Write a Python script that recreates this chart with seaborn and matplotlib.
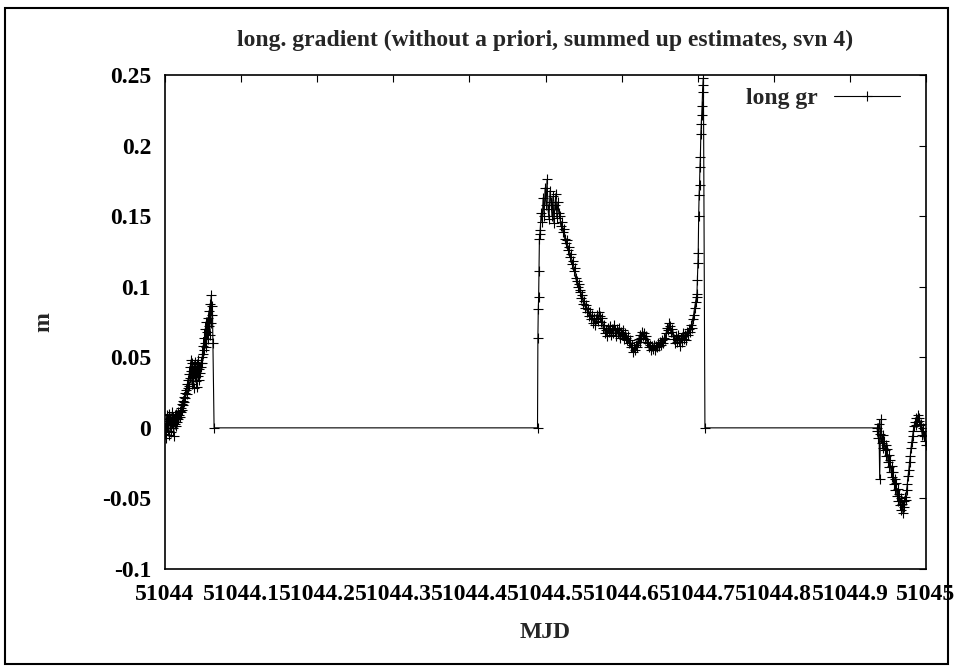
import numpy as np
import pandas as pd
import matplotlib
matplotlib.use("Agg")
import matplotlib.pyplot as plt
import seaborn as sns
from matplotlib.patches import Rectangle

# ---------------- data ----------------
title = "long. gradient (without a priori, summed up estimates, svn 4)"
xlabel = "MJD"
ylabel = "m"
series_label = "long gr"

x_ticks = [51044.0, 51044.1, 51044.2, 51044.3, 51044.4, 51044.5,
           51044.6, 51044.7, 51044.8, 51044.9, 51045.0]
x_tick_labels = ["51044", "51044.1", "51044.2", "51044.3", "51044.4", "51044.5",
                 "51044.6", "51044.7", "51044.8", "51044.9", "51045"]
y_ticks = [-0.1, -0.05, 0.0, 0.05, 0.1, 0.15, 0.2, 0.25]
y_tick_labels = ["-0.1", "-0.05", "0", "0.05", "0.1", "0.15", "0.2", "0.25"]

# segment 1 (MJD 51044.000 .. 51044.063)
seg1_range = (51044.000, 51044.063)
seg1_y = [-0.004, 0.003, -0.007, 0.005, 0.009, -0.002, 0.006, -0.005, 0.010, 0.002,
          0.007, -0.003, 0.004, 0.011, 0.000, 0.008, -0.006, 0.005, 0.009, 0.003,
          0.010, 0.001, 0.007, 0.004, 0.011, 0.006, 0.009, 0.012,
          0.008, 0.014, 0.011, 0.017, 0.013, 0.019, 0.016, 0.022, 0.018, 0.025,
          0.021, 0.027, 0.024, 0.031, 0.028, 0.034, 0.030, 0.038,
          0.043, 0.035, 0.048, 0.040, 0.031, 0.046, 0.038, 0.028, 0.044, 0.036,
          0.047, 0.033, 0.041, 0.029, 0.045, 0.037, 0.048, 0.034, 0.042, 0.039,
          0.046, 0.043,
          0.050, 0.046, 0.058, 0.052, 0.064, 0.055, 0.070, 0.060, 0.075, 0.057,
          0.068, 0.078, 0.063, 0.072, 0.083, 0.066, 0.088, 0.074, 0.094, 0.080,
          0.086, 0.060]

# gap 1 (zero fill)
gap1_x = [51044.0645, 51044.4895]
gap1_y = [0.0, 0.0]

# segment 2: steep rise, main body, final rise
seg2_rise_range = (51044.4900, 51044.4925)
seg2_rise_y = [0.064, 0.084, 0.093, 0.111, 0.134, 0.137]

seg2_body_range = (51044.4930, 51044.6985)
seg2_body_y = [0.140, 0.152, 0.146, 0.163, 0.150, 0.170, 0.158, 0.176, 0.155, 0.148,
               0.168, 0.160, 0.150, 0.164, 0.145, 0.158, 0.166, 0.149, 0.160, 0.152,
               0.150, 0.143, 0.146, 0.139, 0.141, 0.134, 0.131, 0.133, 0.126, 0.128,
               0.121, 0.123, 0.116, 0.118, 0.111, 0.113, 0.106, 0.104, 0.100, 0.102,
               0.096, 0.098, 0.092, 0.094, 0.088, 0.090, 0.085, 0.087, 0.082, 0.084,
               0.079, 0.082, 0.077, 0.080, 0.074, 0.078, 0.073, 0.077, 0.080, 0.076,
               0.082,
               0.079, 0.075, 0.078, 0.071, 0.073, 0.067,
               0.069, 0.065, 0.071, 0.068, 0.072, 0.066, 0.070, 0.067, 0.073, 0.069,
               0.065, 0.070, 0.067, 0.071, 0.064, 0.068, 0.066, 0.069, 0.063, 0.067,
               0.064, 0.062, 0.065,
               0.060, 0.062, 0.057, 0.059, 0.054, 0.057, 0.055, 0.059, 0.057, 0.061,
               0.063, 0.061, 0.066, 0.064, 0.068, 0.065, 0.067, 0.063, 0.065, 0.061,
               0.060, 0.057, 0.059, 0.055, 0.058, 0.056, 0.059, 0.055, 0.058, 0.057,
               0.060, 0.058, 0.061, 0.059, 0.062, 0.060, 0.064, 0.063,
               0.067, 0.071, 0.069, 0.074, 0.072, 0.068, 0.070, 0.065,
               0.063, 0.060, 0.065, 0.061, 0.066, 0.062, 0.058, 0.064, 0.061, 0.067,
               0.063, 0.066, 0.062, 0.068,
               0.066, 0.070, 0.068, 0.073, 0.071, 0.077, 0.080, 0.085, 0.089, 0.093]

seg2_top_range = (51044.6990, 51044.7075)
seg2_top_y = [0.095, 0.105, 0.117, 0.124, 0.150, 0.165, 0.172, 0.185, 0.192, 0.208,
              0.215, 0.222, 0.228, 0.238, 0.243, 0.248]

# gap 2 (zero fill)
gap2_x = [51044.7095, 51044.9355]
gap2_y = [0.0, 0.0]

# segment 3 (MJD 51044.9362 .. 51045.000)
seg3_range = (51044.9362, 51045.000)
seg3_y = [-0.002, -0.007, 0.003, -0.036, -0.004, 0.006, -0.011, -0.005, -0.014, -0.009,
          -0.016, -0.012, -0.020, -0.015, -0.024, -0.019, -0.028, -0.023, -0.031, -0.027,
          -0.035, -0.031, -0.040, -0.036, -0.044, -0.039, -0.048, -0.043, -0.052, -0.047,
          -0.055, -0.050, -0.058, -0.054,
          -0.060, -0.052, -0.056, -0.049, -0.051,
          -0.044, -0.040, -0.034, -0.030, -0.024, -0.020, -0.014, -0.010, -0.006, -0.002,
          0.001, 0.004, 0.002, 0.007, 0.004, 0.009, 0.005, 0.007, 0.002,
          0.003, -0.002, -0.005, 0.000, -0.006, -0.009, -0.005, -0.012]

# ---------------- assemble ----------------
def piece(rng, vals):
    return list(np.linspace(rng[0], rng[1], len(vals))), list(vals)

xs, ys = [], []
for px, py in [piece(seg1_range, seg1_y), (gap1_x, gap1_y),
               piece(seg2_rise_range, seg2_rise_y), piece(seg2_body_range, seg2_body_y),
               piece(seg2_top_range, seg2_top_y), (gap2_x, gap2_y),
               piece(seg3_range, seg3_y)]:
    xs += px
    ys += py
df = pd.DataFrame({"MJD": xs, "m": ys})

# ---------------- style ----------------
sns.set_theme(style="white")
plt.rcParams["font.family"] = ["Liberation Serif", "DejaVu Serif"]
plt.rcParams["font.weight"] = "bold"
plt.rcParams["axes.labelweight"] = "bold"
plt.rcParams["axes.titleweight"] = "bold"

FS = 17
W, H = 956, 668
fig = plt.figure(figsize=(W / 100, H / 100), dpi=100)
fig.patch.set_facecolor("white")
L, R, T, B = 165, 926, 75, 569
ax = fig.add_axes([L / W, 1 - B / H, (R - L) / W, (B - T) / H])
ax.set_facecolor("white")

sns.lineplot(data=df, x="MJD", y="m", sort=False, estimator=None, ax=ax,
             color="black", linewidth=0.8, marker="+", markersize=7,
             markeredgewidth=0.8, markeredgecolor="black", label=series_label)

ax.set_xlim(51044.0, 51045.0)
ax.set_ylim(-0.1, 0.25)
ax.set_xticks(x_ticks)
ax.set_xticklabels(x_tick_labels)
ax.set_yticks(y_ticks)
ax.set_yticklabels(y_tick_labels)
ax.tick_params(direction="in", length=5, width=0.8, top=True, right=True,
               labelsize=FS, colors="black")
ax.tick_params(axis="y", pad=10)
ax.tick_params(axis="x", pad=11)
for lab in ax.get_xticklabels() + ax.get_yticklabels():
    lab.set_fontweight("bold")
for sp in ax.spines.values():
    sp.set_visible(True)
    sp.set_color("black")
    sp.set_linewidth(1.2)

ax.set_xlabel(xlabel, fontsize=FS, fontweight="bold", labelpad=12)
ax.set_ylabel(ylabel, fontsize=FS, fontweight="bold", labelpad=34)
ax.set_title(title, fontsize=FS, fontweight="bold", pad=21)

h, l = ax.get_legend_handles_labels()
ax.legend(h, l, loc="upper right", bbox_to_anchor=(0.966, 0.975), frameon=False,
          markerfirst=False, handlelength=2.8, handletextpad=0.7, borderpad=0,
          borderaxespad=0, prop={"size": FS, "weight": "bold"})

fig.patches.append(Rectangle((5 / W, 1 - 664 / H), (948 - 5) / W, (664 - 8) / H,
                             transform=fig.transFigure, fill=False,
                             edgecolor="black", linewidth=1.5))

fig.savefig("out.png", dpi=100, facecolor="white")
